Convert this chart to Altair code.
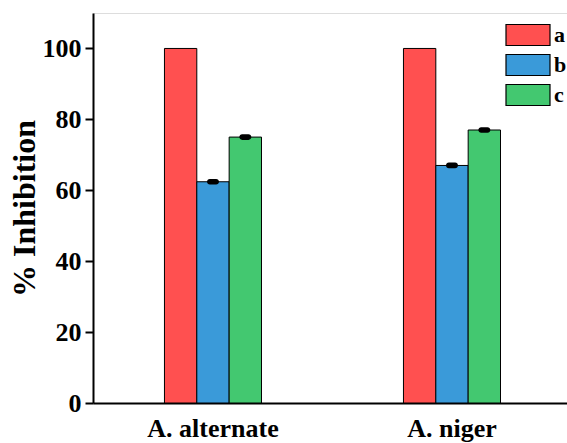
import altair as alt
import pandas as pd

groups = ["A. alternate", "A. niger"]
series = ["a", "b", "c"]
values_a = [100.0, 100.0]
values_b = [62.4, 67.0]
values_c = [75.0, 77.0]
errors_a = [0.0, 0.0]
errors_b = [0.8, 0.8]
errors_c = [0.8, 0.8]
colors = ["#FF5050", "#3A9AD9", "#43C870"]

rows = []
for s, vals, errs in zip(series, [values_a, values_b, values_c], [errors_a, errors_b, errors_c]):
    for g, v, e in zip(groups, vals, errs):
        rows.append({"group": g, "series": s, "value": v, "lo": v - e, "hi": v + e})
df = pd.DataFrame(rows)

FONT = "Liberation Serif"

xscale = alt.Scale(paddingInner=0.594, paddingOuter=0.2886, align=0.518)
x = alt.X(
    "group:N", sort=groups, scale=xscale,
    axis=alt.Axis(title=None, labelAngle=0, labelFont=FONT, labelFontSize=26,
                  labelFontWeight="bold", labelColor="black", ticks=False,
                  domainColor="black", domainWidth=2, labelPadding=12),
)
xo = alt.XOffset("series:N", sort=series,
                 scale=alt.Scale(paddingInner=0, paddingOuter=0))

bars = alt.Chart(df).mark_bar(stroke="black", strokeWidth=1).encode(
    x=x,
    xOffset=xo,
    y=alt.Y("value:Q",
            scale=alt.Scale(domain=[0, 110], nice=False),
            axis=alt.Axis(values=[0, 20, 40, 60, 80, 100], title="% Inhibition",
                          titleFont=FONT, titleFontSize=32, titleFontWeight="bold",
                          titleColor="black", titlePadding=1,
                          labelFont=FONT, labelFontSize=26, labelFontWeight="bold",
                          labelColor="black", labelPadding=4,
                          tickSize=8, tickWidth=2, tickColor="black",
                          domainColor="black", domainWidth=2, grid=False)),
    fill=alt.Fill("series:N", sort=series,
                  scale=alt.Scale(domain=series, range=colors),
                  legend=alt.Legend(
                      title=None, orient="none", legendX=423, legendY=10,
                      symbolType="M-2,-0.955L2,-0.955L2,0.955L-2,0.955Z",
                      symbolSize=484, symbolStrokeColor="black",
                      symbolStrokeWidth=1.2, symbolOpacity=1,
                      labelFont=FONT, labelFontSize=22, labelFontWeight="bold",
                      labelColor="black", labelOffset=14, rowPadding=4)),
)

caps = alt.Chart(df).transform_filter("datum.hi > datum.lo").mark_bar(
    size=12, color="black", cornerRadius=3
).encode(
    x=alt.X("group:N", sort=groups, scale=xscale),
    xOffset=alt.XOffset("series:N", sort=series),
    y="lo:Q",
    y2="hi:Q",
)

chart = alt.layer(bars, caps).properties(
    width=474, height=390,
    padding={"left": 93, "top": 13, "right": 0, "bottom": 40},
    autosize=alt.AutoSizeParams(type="none"),
).configure_view(stroke="black", strokeWidth=2).configure(background="white")

chart.save("out.html", embed_options={"renderer": "svg", "actions": False})
